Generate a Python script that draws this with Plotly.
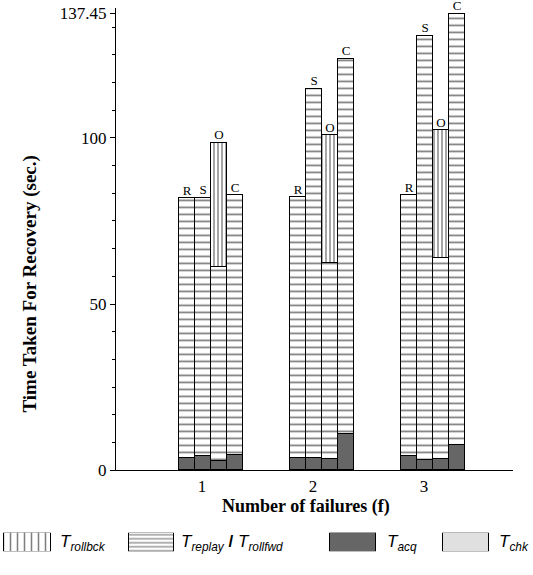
import plotly.graph_objects as go

# ---------------- data ----------------
failures = [1, 2, 3]
variants = ["R", "S", "O", "C"]

t_acq = {
    "R": [3.7, 3.8, 4.3],
    "S": [4.3, 3.8, 3.2],
    "O": [2.9, 3.3, 3.5],
    "C": [4.6, 11.0, 7.6],
}
t_replay = {
    "R": [78.1, 78.3, 78.4],
    "S": [77.7, 111.0, 127.6],
    "O": [58.3, 59.2, 60.3],
    "C": [78.1, 112.9, 129.85],
}
t_rollbck = {
    "R": [0, 0, 0],
    "S": [0, 0, 0],
    "O": [37.4, 38.3, 38.5],
    "C": [0, 0, 0],
}
t_chk = {
    "R": [0, 0, 0],
    "S": [0, 0, 0],
    "O": [0, 0, 0],
    "C": [0, 0, 0],
}

y_ticks = [0, 50, 100, 137.45]
y_ticktext = ["0", "50", "100", "137.45"]

# ---------------- layout helpers ----------------
W, H = 533, 575
PX_PER_UNIT = 111.0           # pixels per failure step on x
bar_w_px = 16
offsets_px = [-15, 1, 17, 33]  # centre of each variant bar relative to category tick

xs, acq_v, rep_v, rb_v, chk_v, labels, tops = [], [], [], [], [], [], []
for gi, f in enumerate(failures):
    for vi, v in enumerate(variants):
        xs.append(f + offsets_px[vi] / PX_PER_UNIT)
        acq_v.append(t_acq[v][gi])
        rep_v.append(t_replay[v][gi])
        rb_v.append(t_rollbck[v][gi])
        chk_v.append(t_chk[v][gi])
        labels.append(v)
        tops.append(t_acq[v][gi] + t_replay[v][gi] + t_rollbck[v][gi] + t_chk[v][gi])

bw = bar_w_px / PX_PER_UNIT
line = dict(color="black", width=1)

fig = go.Figure()
fig.add_trace(go.Bar(x=xs, y=acq_v, width=bw, marker=dict(color="#666666", line=line),
                     showlegend=False, hoverinfo="skip"))
fig.add_trace(go.Bar(x=xs, y=rep_v, width=bw,
                     marker=dict(color="white", line=line,
                                 pattern=dict(shape="-", size=7, solidity=0.25,
                                              fgcolor="black", bgcolor="white", fillmode="overlay")),
                     showlegend=False, hoverinfo="skip"))
fig.add_trace(go.Bar(x=xs, y=rb_v, width=bw,
                     marker=dict(color="white", line=line,
                                 pattern=dict(shape="|", size=4, solidity=0.35,
                                              fgcolor="black", bgcolor="white", fillmode="overlay")),
                     showlegend=False, hoverinfo="skip"))
fig.add_trace(go.Bar(x=xs, y=chk_v, width=bw, marker=dict(color="#e0e0e0", line=line),
                     showlegend=False, hoverinfo="skip"))
fig.add_trace(go.Scatter(x=xs, y=tops, mode="text", text=labels, textposition="top center",
                         textfont=dict(family="Liberation Serif", size=13, color="black"),
                         showlegend=False, hoverinfo="skip", cliponaxis=False))

# ---------------- custom legend (big swatches) ----------------
leg_x = [27.5, 151.5, 353, 466]
leg_w = [47, 45, 46, 46]
leg_styles = [
    dict(color="white", line=line, pattern=dict(shape="|", size=7, solidity=0.22, fgcolor="black", bgcolor="white")),
    dict(color="white", line=line, pattern=dict(shape="-", size=4, solidity=0.3, fgcolor="black", bgcolor="white")),
    dict(color="#666666", line=line),
    dict(color="#e0e0e0", line=line),
]
for lx, lw, st in zip(leg_x, leg_w, leg_styles):
    fig.add_trace(go.Bar(x=[lx], y=[1], width=lw, marker=st, xaxis="x2", yaxis="y2",
                         showlegend=False, hoverinfo="skip"))

leg_texts = [
    (58, "<i>T</i><sub><i>rollbck</i></sub>"),
    (179, "<i>T</i><sub><i>replay</i></sub> <b>/</b> <i>T</i><sub><i>rollfwd</i></sub>"),
    (385, "<i>T</i><sub><i>acq</i></sub>"),
    (497, "<i>T</i><sub><i>chk</i></sub>"),
]
annotations = []
for lx, txt in leg_texts:
    annotations.append(dict(x=lx / W, y=(H - 553) / H, xref="paper", yref="paper", text=txt,
                            showarrow=False, xanchor="left", yanchor="middle",
                            font=dict(family="Liberation Sans", size=17, color="black")))

annotations.append(dict(x=30 / W, y=(H - 288) / H, xref="paper", yref="paper",
                        text="<b>Time Taken For Recovery (sec.)</b>", textangle=-90,
                        showarrow=False, xanchor="center", yanchor="middle",
                        font=dict(family="Liberation Serif", size=19, color="black")))
annotations.append(dict(x=306 / W, y=(H - 515) / H, xref="paper", yref="paper",
                        text="<b>Number of failures (f)</b>",
                        showarrow=False, xanchor="center", yanchor="middle",
                        font=dict(family="Liberation Serif", size=18, color="black")))

minor_vals = [k * 50 / 6 for k in range(1, 17) if k % 6 != 0]

x_left, x_right = 116, 513
y_bottom, y_top = 478, 5
x0 = 1 - (202 - x_left) / PX_PER_UNIT
x1 = 1 + (x_right - 202) / PX_PER_UNIT

fig.update_layout(
    width=W, height=H,
    margin=dict(l=0, r=0, t=0, b=0),
    paper_bgcolor="white", plot_bgcolor="white",
    barmode="stack", bargap=0,
    font=dict(family="Liberation Serif", color="black"),
    xaxis=dict(domain=[x_left / W, x_right / W], range=[x0, x1],
               tickmode="array", tickvals=failures, ticktext=[str(f) for f in failures],
               ticks="", showline=True, linecolor="black", linewidth=1,
               showgrid=False, zeroline=False,
               tickfont=dict(family="Liberation Serif", size=17, color="black")),
    yaxis=dict(domain=[(H - y_bottom) / H, (H - y_top) / H],
               range=[0, (y_bottom - y_top) / 3.4],
               tickmode="array", tickvals=y_ticks, ticktext=y_ticktext,
               ticks="outside", ticklen=5, tickcolor="black", tickwidth=1,
               minor=dict(tickmode="array", tickvals=minor_vals, ticks="outside",
                          ticklen=3, tickcolor="black", tickwidth=1, showgrid=False),
               showline=True, linecolor="black", linewidth=1,
               showgrid=False, zeroline=False,
               tickfont=dict(family="Liberation Serif", size=17, color="black")),
    xaxis2=dict(domain=[0, 1], range=[0, W], visible=False, fixedrange=True),
    yaxis2=dict(domain=[(H - 561) / H, (H - 542) / H], range=[0, 1], visible=False,
                fixedrange=True),
    annotations=annotations,
)

fig.write_html("out.html",
               config={"displayModeBar": False},
               post_script="document.body.style.margin='0';document.body.style.padding='0';document.body.style.overflow='hidden';")
